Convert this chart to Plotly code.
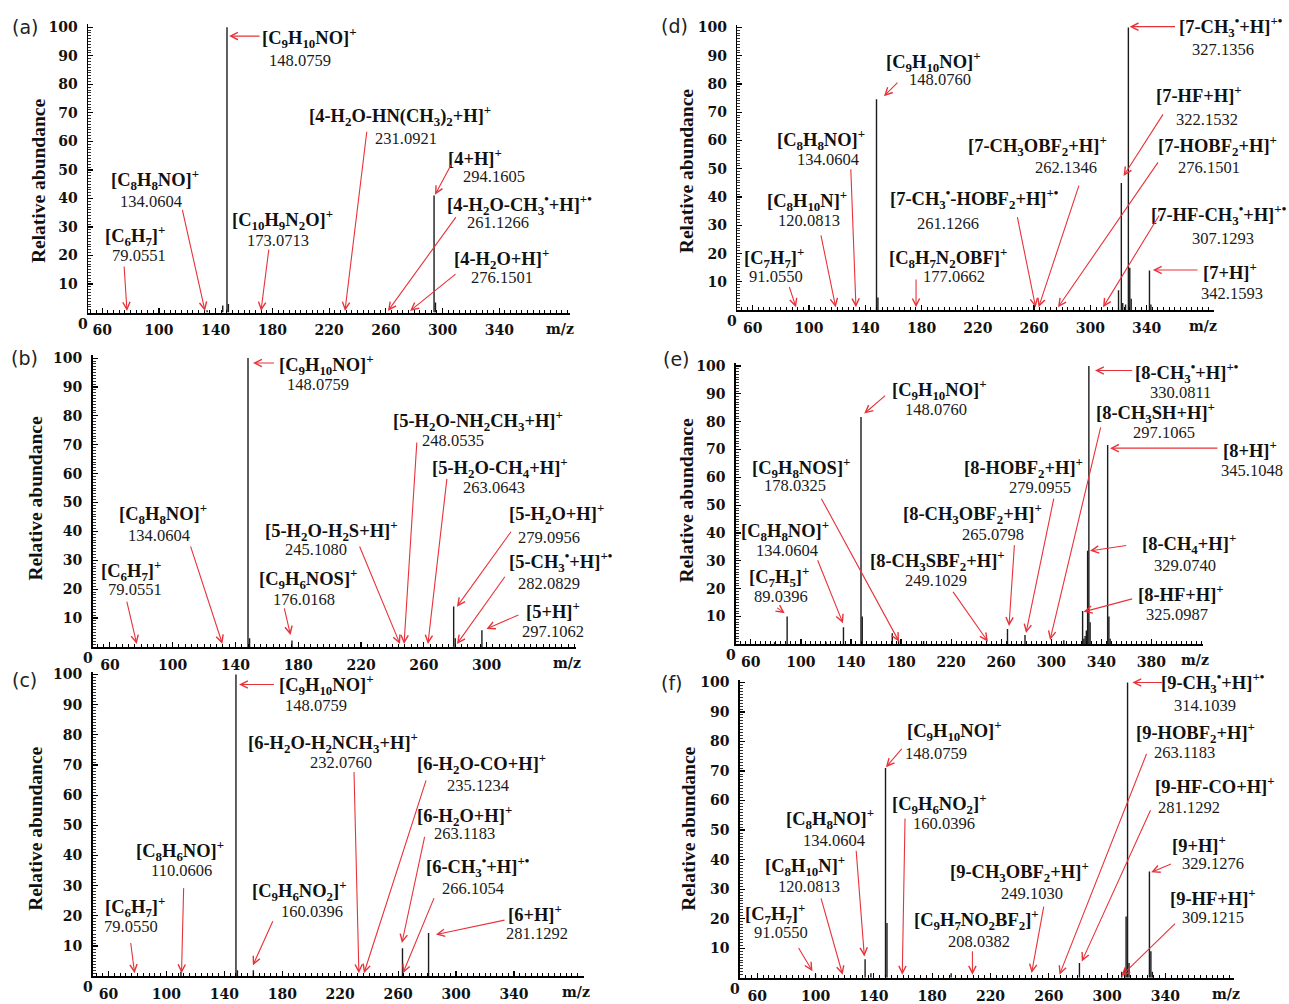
import re
import plotly.graph_objects as go

W, H = 1289, 1004

# ---------------- spectra data: m/z and relative abundance ----------------
a_mz = [134, 145, 148, 149, 294, 295]
a_int = [0.8, 2.5, 100, 3, 41, 3.5]

b_mz = [148, 149, 176, 279, 280, 297]
b_int = [100, 3, 2.2, 14, 3, 5.8]

c_mz = [110, 148, 149, 160, 263, 281]
c_int = [1.5, 100, 2, 2, 9.3, 14.3]

d_mz = [148, 149, 320, 322, 323, 325, 327, 328, 329, 342, 343]
d_int = [74.6, 4.5, 7, 45, 2.5, 2, 100, 15, 4, 14, 2]

e_mz = [79, 89, 120, 134, 148, 149, 173, 178, 198, 265, 279, 310,
        325, 326, 327, 328, 329, 330, 331, 345, 346, 347]
e_int = [0.8, 10, 1, 6.2, 81.7, 10, 4, 1.5, 1.2, 5.5, 3.4, 1.5,
         12, 2, 3, 5, 33.6, 100, 8, 71.6, 10, 2]

f_mz = [100, 134, 138, 148, 149, 193, 281, 310, 312, 313, 314, 315, 329, 330, 331]
f_int = [1.2, 6.3, 1.5, 71, 18.5, 1.5, 5, 2, 3, 20.7, 100, 5, 36, 9, 2]

# ---------------- tick labels ----------------
x_ticks_a = [60, 100, 140, 180, 220, 260, 300, 340]
x_ticks_b = [60, 100, 140, 180, 220, 260, 300]
x_ticks_c = [60, 100, 140, 180, 220, 260, 300, 340]
x_ticks_d = [60, 100, 140, 180, 220, 260, 300, 340]
x_ticks_e = [60, 100, 140, 180, 220, 260, 300, 340, 380]
x_ticks_f = [60, 100, 140, 180, 220, 260, 300, 340]
y_ticks = [10, 20, 30, 40, 50, 60, 70, 80, 90, 100]

# ---------------- ion labels (formula, accurate mass) ----------------
a_ions = [("[C_9H_10NO]^{+}", "148.0759"),
          ("[4-H_2O-HN(CH_3)_2+H]^{+}", "231.0921"),
          ("[4+H]^{+}", "294.1605"),
          ("[4-H_2O-CH_3^{•}+H]^{+•}", "261.1266"),
          ("[4-H_2O+H]^{+}", "276.1501"),
          ("[C_8H_8NO]^{+}", "134.0604"),
          ("[C_10H_9N_2O]^{+}", "173.0713"),
          ("[C_6H_7]^{+}", "79.0551")]
b_ions = [("[C_9H_10NO]^{+}", "148.0759"),
          ("[5-H_2O-NH_2CH_3+H]^{+}", "248.0535"),
          ("[5-H_2O-CH_4+H]^{+}", "263.0643"),
          ("[5-H_2O+H]^{+}", "279.0956"),
          ("[5-CH_3^{•}+H]^{+•}", "282.0829"),
          ("[5+H]^{+}", "297.1062"),
          ("[5-H_2O-H_2S+H]^{+}", "245.1080"),
          ("[C_9H_6NOS]^{+}", "176.0168"),
          ("[C_8H_8NO]^{+}", "134.0604"),
          ("[C_6H_7]^{+}", "79.0551")]
c_ions = [("[C_9H_10NO]^{+}", "148.0759"),
          ("[6-H_2O-H_2NCH_3+H]^{+}", "232.0760"),
          ("[6-H_2O-CO+H]^{+}", "235.1234"),
          ("[6-H_2O+H]^{+}", "263.1183"),
          ("[6-CH_3^{•}+H]^{+•}", "266.1054"),
          ("[6+H]^{+}", "281.1292"),
          ("[C_8H_6NO]^{+}", "110.0606"),
          ("[C_9H_6NO_2]^{+}", "160.0396"),
          ("[C_6H_7]^{+}", "79.0550")]
d_ions = [("[7-CH_3^{•}+H]^{+•}", "327.1356"),
          ("[C_9H_10NO]^{+}", "148.0760"),
          ("[7-HF+H]^{+}", "322.1532"),
          ("[7-CH_3OBF_2+H]^{+}", "262.1346"),
          ("[7-HOBF_2+H]^{+}", "276.1501"),
          ("[7-CH_3^{•}-HOBF_2+H]^{+•}", "261.1266"),
          ("[7-HF-CH_3^{•}+H]^{+•}", "307.1293"),
          ("[7+H]^{+}", "342.1593"),
          ("[C_8H_8NO]^{+}", "134.0604"),
          ("[C_8H_10N]^{+}", "120.0813"),
          ("[C_7H_7]^{+}", "91.0550"),
          ("[C_8H_7N_2OBF]^{+}", "177.0662")]
e_ions = [("[8-CH_3^{•}+H]^{+•}", "330.0811"),
          ("[C_9H_10NO]^{+}", "148.0760"),
          ("[8-CH_3SH+H]^{+}", "297.1065"),
          ("[8+H]^{+}", "345.1048"),
          ("[8-HOBF_2+H]^{+}", "279.0955"),
          ("[8-CH_3OBF_2+H]^{+}", "265.0798"),
          ("[8-CH_3SBF_2+H]^{+}", "249.1029"),
          ("[8-CH_4+H]^{+}", "329.0740"),
          ("[8-HF+H]^{+}", "325.0987"),
          ("[C_9H_8NOS]^{+}", "178.0325"),
          ("[C_8H_8NO]^{+}", "134.0604"),
          ("[C_7H_5]^{+}", "89.0396")]
f_ions = [("[9-CH_3^{•}+H]^{+•}", "314.1039"),
          ("[C_9H_10NO]^{+}", "148.0759"),
          ("[9-HOBF_2+H]^{+}", "263.1183"),
          ("[9-HF-CO+H]^{+}", "281.1292"),
          ("[9+H]^{+}", "329.1276"),
          ("[9-HF+H]^{+}", "309.1215"),
          ("[C_9H_6NO_2]^{+}", "160.0396"),
          ("[C_8H_8NO]^{+}", "134.0604"),
          ("[C_8H_10N]^{+}", "120.0813"),
          ("[C_7H_7]^{+}", "91.0550"),
          ("[C_9H_7NO_2BF_2]^{+}", "208.0382"),
          ("[9-CH_3OBF_2+H]^{+}", "249.1030")]

# ---------------- label placement (panel data units) ----------------
# (formula centre, mass centre, arrow tail, arrow head)
a_pos = [((206, 96.5), (199.5, 88.5), (172, 96.9), (149.5, 96.9)),
         ((270, 69.1), (274.2, 61.1), (246.7, 63.9), (231.2, 0.6)),
         ((322.9, 54.5), (336.3, 47.6), (306.7, 52.4), (294.7, 41.3)),
         ((354.6, 37.8), (339.1, 31.6), (310.2, 34), (261.5, 0.6)),
         ((341.9, 19.1), (341.9, 12.2), (310.2, 13.9), (277.1, 0.6)),
         ((97.2, 46.5), (94.4, 38.9), (116.3, 36.5), (132.5, 0.6)),
         ((186.8, 32.6), (184, 25.3), (177.6, 22.6), (172, 0.6)),
         ((83.1, 27.1), (85.9, 20.1), (75.4, 16.7), (77.5, 0.6))]
b_pos = [((198.3, 97.8), (192.6, 90.9), (165.5, 98.3), (151.2, 98.3)),
         ((294.5, 78.3), (278.6, 71.3), (255.6, 71.3), (247.4, 1)),
         ((308.5, 62.2), (304.7, 55.2), (274.8, 58.7), (262.6, 1)),
         ((344.8, 46.1), (339.7, 38), (316.2, 40.4), (281.1, 13.9)),
         ((347.4, 29.5), (339.7, 21.9), (312.3, 24.8), (281.1, 1)),
         ((342.3, 12.7), (342.3, 5.5), (321.2, 11.3), (299.9, 6.2)),
         ((200.9, 40.4), (191.3, 33.6), (218.7, 35.3), (244.8, 1)),
         ((186.2, 23.6), (183.7, 16.4), (170.9, 13.9), (175.1, 4.1)),
         ((93.9, 46.1), (91.3, 38.7), (111.1, 35.3), (131.7, 1)),
         ((73.5, 26.5), (76, 19.9), (70.6, 16.2), (77.1, 1))]
c_pos = [((210.5, 96.7), (203.2, 89.6), (175.3, 96.7), (150.1, 96.7)),
         ((215, 77.5), (220.5, 70.9), (229.5, 68.2), (232.9, 1)),
         ((317.6, 70.5), (314.8, 63.3), (279.6, 65.4), (236.4, 1)),
         ((306.1, 53.4), (306.1, 47.2), (278.5, 46.7), (262.6, 11)),
         ((314.8, 36.4), (311.7, 29.2), (285.2, 26.4), (263.3, 1)),
         ((354.3, 21), (355.7, 14.3), (334.5, 18.7), (286.1, 13.8)),
         ((109.1, 41.8), (110.4, 34.9), (111.9, 29.7), (110.4, 1)),
         ((192.2, 28.5), (200.5, 21.4), (173.9, 18.7), (159.7, 3.6)),
         ((78, 23.1), (75.2, 16.5), (75.2, 11.5), (78, 1))]
d_pos = [((400, 100.3), (394.6, 92.1), (361.2, 100.3), (327.9, 100.3)),
         ((188.7, 88), (193, 81.6), (164, 81), (153.3, 75.7)),
         ((377.2, 76.3), (382.9, 67.4), (352.3, 69.8), (323.6, 47.5)),
         ((262.6, 58.1), (282.7, 50.4), (292.2, 44.6), (263.2, 1)),
         ((390.2, 58.1), (384.3, 50.4), (348.8, 52.8), (277, 1)),
         ((217.7, 39.4), (198.8, 30.7), (247.9, 33.4), (261.1, 1)),
         ((391.7, 34), (394.6, 25.2), (349.5, 34), (309, 1)),
         ((399, 14), (400.4, 6), (377.2, 14.2), (344.4, 14.2)),
         ((108.8, 60.4), (113.2, 53.4), (129.7, 50.4), (133.4, 1)),
         ((98.6, 38.7), (100, 31.7), (108.3, 27), (119, 1)),
         ((75.5, 18.7), (76.9, 11.9), (85.7, 8.7), (90.8, 1)),
         ((198.8, 18.7), (203.1, 11.9), (176.1, 11.4), (176.1, 1))]
e_pos = [((408.1, 97.5), (403.3, 90.4), (365.8, 98.4), (334.9, 98.4)),
         ((210.9, 91.6), (207.7, 84.4), (168.5, 89.8), (150.6, 82.9)),
         ((383.6, 83.3), (390, 76.2), (339.7, 78.5), (299, 1.6)),
         ((458.7, 70.2), (460.3, 62.3), (433.9, 70.5), (346.9, 70.5)),
         ((277.8, 63.6), (290.8, 56.4), (302.2, 52.9), (279.8, 4.1)),
         ((237, 46.9), (253.4, 39.4), (270.6, 36.2), (266.2, 6.6)),
         ((209.3, 30.2), (207.7, 23.1), (220.7, 19.4), (249.4, 1)),
         ((409.8, 36.2), (406.5, 28.4), (361, 35.6), (330.9, 33.6)),
         ((403.3, 18.3), (400, 10.8), (365.8, 16.5), (325.7, 11.7)),
         ((100.1, 63.6), (95.3, 57), (115.7, 52.9), (178.4, 1)),
         ((87.1, 41), (88.7, 33.8), (112.9, 30.8), (133.6, 7.6)),
         ((82.2, 24.3), (83.8, 17.2), (79.9, 13.5), (87.1, 11.2))]
f_pos = [((372.6, 100), (367.1, 92.3), (339, 100), (317.3, 100)),
         ((195, 83.6), (182.4, 75.9), (160, 78), (148.3, 71.3)),
         ((360.3, 83.1), (353.2, 76.3), (327.4, 76.3), (267.3, 1)),
         ((374, 65.2), (356, 57.8), (330.2, 57.2), (282.6, 5.5)),
         ((363, 45.4), (372.6, 38.7), (344.8, 38.7), (330.2, 35.7)),
         ((372.6, 27.4), (372.6, 20.4), (347.6, 18.8), (309.8, 0.6)),
         ((185.2, 58.9), (188.1, 52.2), (161.4, 54.4), (159.5, 1)),
         ((109.7, 53.9), (112.5, 46.6), (127.8, 43.5), (133.5, 7.2)),
         ((92.8, 38.1), (95.5, 30.8), (103.5, 27.4), (118.6, 1)),
         ((71.9, 21.8), (76, 15.4), (87.8, 10.6), (97.9, 2.2)),
         ((210.4, 19.6), (211.9, 12.2), (207.6, 9.5), (207.6, 1)),
         ((239.8, 35.9), (248.2, 28.6), (256.7, 24.6), (248.2, 1.6))]

# ---------------- panel geometry (pixels of the 1289x1004 page) ----------------
GEOM = {
    'a': dict(xr=(50, 390), xpx=(88.0, 570.2), ybase=311.0, ytop=19.6, lab=(25, 22), tit=(38, 178), mz=382.8),
    'b': dict(xr=(49, 357), xpx=(92.6, 576.1), ybase=649.0, ytop=354.1, lab=(25, 357), tit=(36, 499), mz=351.2),
    'c': dict(xr=(49, 388), xpx=(92.6, 583.5), ybase=982.0, ytop=673.9, lab=(24, 682), tit=(36, 833), mz=382.5),
    'd': dict(xr=(49, 388), xpx=(737.2, 1214.2), ybase=308.5, ytop=19.9, lab=(674, 21), tit=(686, 168), mz=380.0),
    'e': dict(xr=(48, 421), xpx=(735.8, 1202.8), ybase=646.5, ytop=362.2, lab=(676, 358), tit=(687, 501), mz=414.8),
    'f': dict(xr=(48, 387), xpx=(739.7, 1234.0), ybase=983.5, ytop=682.0, lab=(672, 686), tit=(689, 833), mz=381.2),
}

PANELS = [('a', a_mz, a_int, x_ticks_a, a_ions, a_pos),
          ('b', b_mz, b_int, x_ticks_b, b_ions, b_pos),
          ('c', c_mz, c_int, x_ticks_c, c_ions, c_pos),
          ('d', d_mz, d_int, x_ticks_d, d_ions, d_pos),
          ('e', e_mz, e_int, x_ticks_e, e_ions, e_pos),
          ('f', f_mz, f_int, x_ticks_f, f_ions, f_pos)]

RED = '#e8323a'
SERIF = 'Liberation Serif, Times New Roman, serif'
TICK_FONT = dict(family='DejaVu Serif', size=14, color='#111111', weight='bold')
FORMULA_FONT = dict(family=SERIF, size=18.5, color='#111111')
MASS_FONT = dict(family=SERIF, size=16.5, color='#1a1a1a')


def fmt(s):
    s = re.sub(r'_(\d+)', r'<sub>\1</sub>', s)
    s = re.sub(r'\^\{(.*?)\}', r'<sup>\1</sup>', s)
    return s


def to_paper(g, mz, v):
    x0, x1 = g['xpx']
    r0, r1 = g['xr']
    px = x0 + (mz - r0) / (r1 - r0) * (x1 - x0)
    py = g['ybase'] - v / 101.0 * (g['ybase'] - g['ytop'])
    return px / W, 1 - py / H


fig = go.Figure()
layout = dict(width=W, height=H, margin=dict(l=0, r=0, t=0, b=0),
              paper_bgcolor='white', plot_bgcolor='white', showlegend=False)
ann = []

for i, (key, mz, inten, xt, ions, pos) in enumerate(PANELS):
    n = i + 1
    xid = 'x' if n == 1 else f'x{n}'
    yid = 'y' if n == 1 else f'y{n}'
    xname = 'xaxis' if n == 1 else f'xaxis{n}'
    yname = 'yaxis' if n == 1 else f'yaxis{n}'
    g = GEOM[key]

    xs, ys = [], []
    for m, v in zip(mz, inten):
        xs += [m, m, None]
        ys += [0, v, None]
    fig.add_trace(go.Scatter(x=xs, y=ys, mode='lines',
                             line=dict(color='#1b1b1b', width=1.4),
                             xaxis=xid, yaxis=yid, hoverinfo='skip'))

    layout[xname] = dict(
        domain=[g['xpx'][0] / W, g['xpx'][1] / W], range=list(g['xr']), anchor=yid,
        showline=True, linecolor='black', linewidth=2,
        ticks='inside', ticklen=5, tickwidth=1.2, tickcolor='black',
        tickmode='array', tickvals=xt, ticktext=[str(t) for t in xt],
        tickfont=TICK_FONT, ticklabelstandoff=4,
        showgrid=False, zeroline=False, fixedrange=True,
        minor=dict(ticks='inside', ticklen=3, tickwidth=1, tickcolor='black',
                   tickmode='linear', dtick=4, tick0=0, showgrid=False))
    layout[yname] = dict(
        domain=[1 - g['ybase'] / H, 1 - g['ytop'] / H], range=[0, 101], anchor=xid,
        showline=True, linecolor='black', linewidth=1.5,
        ticks='inside', ticklen=5, tickwidth=1.2, tickcolor='black',
        tickmode='array', tickvals=y_ticks, ticktext=[str(t) for t in y_ticks],
        tickfont=TICK_FONT, ticklabelstandoff=6,
        showgrid=False, zeroline=False, fixedrange=True,
        minor=dict(ticks='inside', ticklen=3, tickwidth=1, tickcolor='#333333',
                   tickmode='linear', dtick=1, tick0=0, showgrid=False))

    # ion labels with arrows
    for (formula, mass), (fxy, nxy, txy, hxy) in zip(ions, pos):
        px, py = to_paper(g, *fxy)
        ann.append(dict(xref='paper', yref='paper', x=px, y=py, text='<b>' + fmt(formula) + '</b>',
                        showarrow=False, font=FORMULA_FONT, xanchor='center', yanchor='middle'))
        px, py = to_paper(g, *nxy)
        ann.append(dict(xref='paper', yref='paper', x=px, y=py, text=mass,
                        showarrow=False, font=MASS_FONT, xanchor='center', yanchor='middle'))
        ann.append(dict(xref=xid, yref=yid, axref=xid, ayref=yid,
                        x=hxy[0], y=hxy[1], ax=txy[0], ay=txy[1], text='',
                        showarrow=True, arrowhead=5, arrowsize=1.3, arrowwidth=1.1,
                        arrowcolor=RED, standoff=0, startstandoff=0))

    # origin "0", m/z label, panel letter, y title
    px, py = to_paper(g, g['xr'][0], 0)
    ann.append(dict(xref='paper', yref='paper', x=px, y=py, xshift=-5, yshift=-11,
                    text='0', showarrow=False, font=TICK_FONT, xanchor='center', yanchor='middle'))
    px, py = to_paper(g, g['mz'], 0)
    ann.append(dict(xref='paper', yref='paper', x=px, y=py, yshift=-16,
                    text='m/z', showarrow=False, font=TICK_FONT, xanchor='center', yanchor='middle'))
    ann.append(dict(xref='paper', yref='paper', x=g['lab'][0] / W, y=1 - g['lab'][1] / H,
                    text='(' + key + ')', showarrow=False,
                    font=dict(family='DejaVu Sans', size=19, color='#222222'),
                    xanchor='center', yanchor='middle'))
    ann.append(dict(xref='paper', yref='paper', x=g['tit'][0] / W, y=1 - g['tit'][1] / H,
                    text='<b>Relative abundance</b>', showarrow=False, textangle=-90,
                    font=dict(family=SERIF, size=19.5, color='#111111'),
                    xanchor='center', yanchor='middle'))

layout['annotations'] = ann
fig.update_layout(**layout)
fig.write_html("out.html",
               config={'displayModeBar': False, 'staticPlot': True},
               post_script="document.body.style.margin='0px';document.body.style.overflow='hidden';")
